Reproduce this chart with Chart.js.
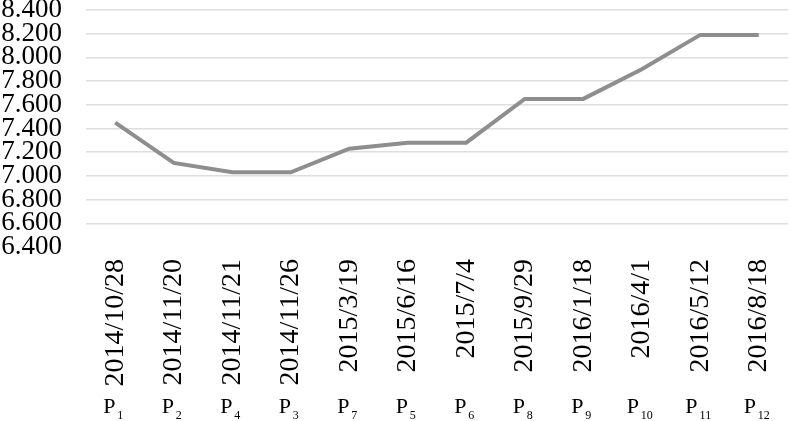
<!DOCTYPE html>
<html>
<head>
<meta charset="utf-8">
<script src="https://cdn.jsdelivr.net/npm/chart.js@4.4.0/dist/chart.umd.min.js"></script>
<style>
  html, body { margin: 0; padding: 0; background: #fff; }
  #wrap { width: 790px; height: 421px; position: relative; }
</style>
</head>
<body>
<div id="wrap"><canvas id="chart"></canvas></div>
<script>
const dates = ['2014/10/28', '2014/11/20', '2014/11/21', '2014/11/26', '2015/3/19', '2015/6/16',
  '2015/7/4', '2015/9/29', '2016/1/18', '2016/4/1', '2016/5/12', '2016/8/18'];
const pointIds = ['1', '2', '4', '3', '7', '5', '6', '8', '9', '10', '11', '12'];
const values = [7.45, 7.11, 7.03, 7.03, 7.23, 7.28, 7.28, 7.65, 7.65, 7.90, 8.19, 8.19];
const yTicks = [6.4, 6.6, 6.8, 7.0, 7.2, 7.4, 7.6, 7.8, 8.0, 8.2, 8.4];

const serif = '"Liberation Serif", "Times New Roman", serif';

// draws the P with subscript row under the rotated dates
const pointLabels = {
  id: 'pointLabels',
  afterDraw(chart) {
    const ctx = chart.ctx;
    const x = chart.scales.x;
    ctx.save();
    ctx.fillStyle = '#000';
    ctx.textBaseline = 'alphabetic';
    ctx.textAlign = 'left';
    pointIds.forEach((id, i) => {
      const cx = x.getPixelForValue(i);
      ctx.font = '22px ' + serif;
      const pw = ctx.measureText('P').width;
      ctx.font = '12px ' + serif;
      const sw = ctx.measureText(id).width;
      const left = cx - (pw + 2 + sw) / 2 - 2;
      ctx.font = '22px ' + serif;
      ctx.fillText('P', left, 413);
      ctx.font = '12px ' + serif;
      ctx.fillText(id, left + pw + 2, 419);
    });
    ctx.restore();
  }
};

new Chart(document.getElementById('chart'), {
  type: 'line',
  data: {
    labels: dates,
    datasets: [{
      data: values,
      borderColor: '#8e8e8e',
      borderWidth: 4,
      pointRadius: 0,
      tension: 0,
      fill: false
    }]
  },
  options: {
    responsive: true,
    maintainAspectRatio: false,
    animation: false,
    layout: { padding: 0 },
    plugins: { legend: { display: false }, tooltip: { enabled: false } },
    scales: {
      x: {
        offset: true,
        grid: { display: false, drawTicks: false },
        border: { display: false },
        ticks: {
          minRotation: 90,
          maxRotation: 90,
          autoSkip: false,
          padding: 12,
          color: '#000',
          font: { family: serif, size: 28 }
        },
        afterFit(scale) {
          scale.height = 174;
          scale.paddingLeft = 0;
          scale.paddingRight = 2;
        }
      },
      y: {
        min: 6.4,
        max: 8.4,
        afterBuildTicks(scale) { scale.ticks = yTicks.map(v => ({ value: v })); },
        grid: {
          drawTicks: false,
          lineWidth: 1.5,
          color: ctx => (ctx.tick && ctx.tick.value === 6.4 ? 'rgba(0,0,0,0)' : '#dedede')
        },
        border: { display: false },
        ticks: {
          autoSkip: false,
          padding: 24,
          color: '#000',
          font: { family: serif, size: 27 },
          callback: v => Number(v).toFixed(3)
        },
        afterFit(scale) {
          scale.width = 86;
          scale.paddingTop = 10;
          scale.paddingBottom = 0;
        }
      }
    }
  },
  plugins: [pointLabels]
});
</script>
</body>
</html>
